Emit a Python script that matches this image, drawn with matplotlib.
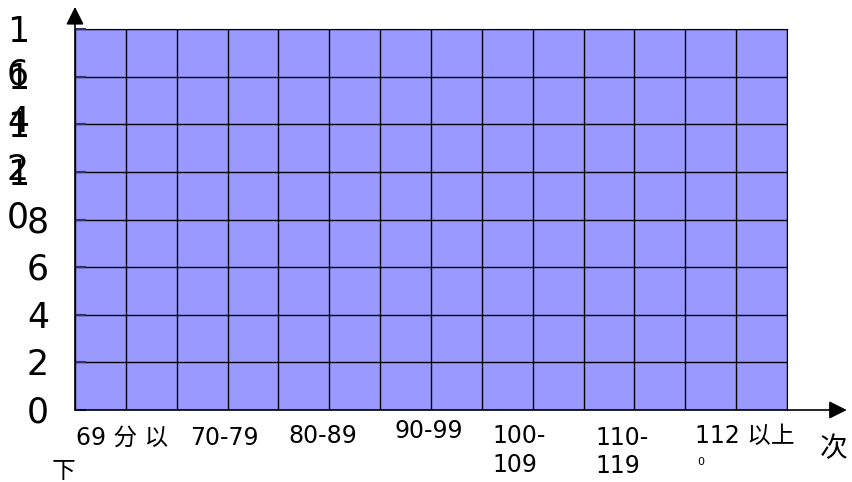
import numpy as np
import matplotlib.pyplot as plt

# score bands and y ticks (chart shows no bars, only the empty grid)
categories = ["69分以下", "70-79", "80-89", "90-99", "100-109", "110-119", "120以上"]
y_ticks = [0, 2, 4, 6, 8, 10, 12, 14, 16]

fam = ["DejaVu Sans", "Noto Sans CJK SC"]
W, H = 852, 482

def fp(x, y):
    # pixel position -> figure fraction
    return x / W, 1 - y / H

fig = plt.figure(figsize=(W / 100, H / 100), dpi=100)
ax = fig.add_axes([75 / W, 1 - 410 / H, (787 - 75) / W, (410 - 29) / H])
ax.set_xlim(0, len(categories))
ax.set_ylim(y_ticks[0], y_ticks[-1])
ax.set_facecolor("#9999FF")
ax.set_xticks(np.arange(0, len(categories) + 0.01, 0.5))
ax.set_yticks(y_ticks)
ax.grid(True, color="black", lw=1)
ax.set_axisbelow(False)
ax.tick_params(axis="x", length=0, labelbottom=False)
ax.tick_params(axis="y", direction="in", length=8, width=1.5, color="#333366", labelleft=False)
for s in ["left", "bottom"]:
    ax.spines[s].set_visible(False)
ax.spines["top"].set_color("black")
ax.spines["right"].set_color("black")

# axis arrows
ax.annotate("", xy=(0, 1.058), xycoords="axes fraction", xytext=(0, 0),
            arrowprops=dict(arrowstyle="-|>", color="black", lw=1.2,
                            mutation_scale=27, shrinkA=0, shrinkB=0))
ax.annotate("", xy=(1.084, 0), xycoords="axes fraction", xytext=(0, 0),
            arrowprops=dict(arrowstyle="-|>", color="black", lw=1.2,
                            mutation_scale=27, shrinkA=0, shrinkB=0))

# y labels, two-digit ones broken over two lines like the original
ytr = ax.get_yaxis_transform()
dy = 0.12
for v in y_ticks:
    s = str(v)
    if len(s) == 1:
        ax.text(-0.052, v - dy, s, transform=ytr, ha="center", va="center",
                fontsize=25, family=fam, clip_on=False)
    else:
        ax.text(-0.080, v - dy, s[0], transform=ytr, ha="center", va="center",
                fontsize=25, family=fam, clip_on=False)
        ax.text(-0.080, v - 1.8 - dy, s[1], transform=ytr, ha="center", va="center",
                fontsize=25, family=fam, clip_on=False)

# x labels, wrapped as in the original
xl = [
    [("69 分 以", 76, 445), ("下", 52, 478)],
    [(categories[1], 190, 445)],
    [(categories[2], 288, 443)],
    [(categories[3], 395, 438)],
    [(categories[4][:4], 492, 443), (categories[4][4:], 492, 472)],
    [(categories[5][:4], 595, 445), (categories[5][4:], 595, 473)],
    [("112 以上", 695, 443)],
]
for lines in xl:
    for txt, x, y in lines:
        fig.text(*fp(x, y), txt, ha="left", va="baseline", fontsize=17, family=fam)
fig.text(*fp(697, 465), "0", ha="left", va="baseline", fontsize=8, family=fam)
fig.text(*fp(820, 457), "次", ha="left", va="baseline", fontsize=20, family=fam)

plt.savefig("out.png", dpi=100)
